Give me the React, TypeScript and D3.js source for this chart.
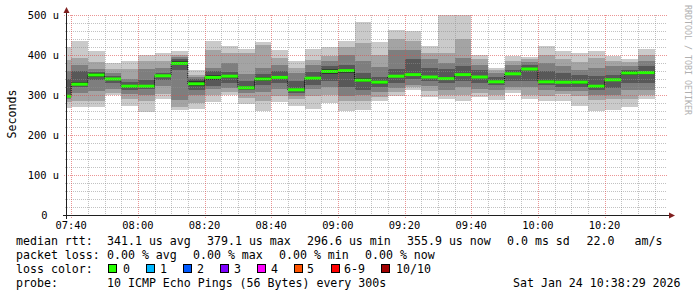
import React from 'react';
import * as d3 from 'd3';

const barTimes = [
  '07:35', '07:40', '07:45', '07:50', '07:55', '08:00', '08:05', '08:10', '08:15',
  '08:20', '08:25', '08:30', '08:35', '08:40', '08:45', '08:50', '08:55', '09:00',
  '09:05', '09:10', '09:15', '09:20', '09:25', '09:30', '09:35', '09:40', '09:45',
  '09:50', '09:55', '10:00', '10:05', '10:10', '10:15', '10:20', '10:25', '10:30',
];

// median RTT per 5-minute step (microseconds)
const medians = [
  297, 327, 350, 340, 322, 322, 348, 379, 328, 344, 347, 318, 340, 344, 313, 342, 359, 361,
  337, 332, 347, 351, 345, 341, 351, 345, 333, 353, 365, 333, 332, 332, 322, 338, 355, 356,
];

// the 10 sorted ping times per step (microseconds)
const pings = [
  [268, 283, 290, 294, 296, 298, 340, 361, 388, 419],
  [270, 286, 306, 319, 324, 332, 361, 376, 392, 434],
  [269, 286, 309, 338, 346, 354, 358, 365, 382, 409],
  [299, 306, 315, 330, 337, 343, 348, 356, 366, 380],
  [273, 290, 302, 313, 318, 326, 332, 341, 365, 386],
  [257, 286, 301, 315, 319, 325, 338, 365, 386, 399],
  [290, 303, 323, 338, 345, 351, 356, 368, 386, 405],
  [263, 270, 288, 363, 374, 384, 390, 395, 400, 409],
  [266, 280, 300, 313, 322, 334, 340, 345, 350, 363],
  [283, 299, 315, 322, 338, 350, 360, 368, 413, 436],
  [299, 308, 318, 330, 342, 351, 357, 380, 405, 423],
  [278, 293, 305, 312, 315, 321, 336, 353, 405, 416],
  [261, 284, 307, 325, 335, 345, 353, 368, 426, 432],
  [282, 297, 315, 330, 340, 348, 360, 375, 392, 413],
  [273, 290, 298, 305, 310, 316, 334, 355, 368, 384],
  [266, 297, 315, 325, 338, 346, 357, 375, 387, 415],
  [280, 300, 320, 335, 352, 366, 373, 385, 398, 419],
  [259, 285, 298, 320, 355, 366, 376, 400, 420, 434],
  [263, 284, 300, 313, 332, 342, 355, 384, 430, 482],
  [286, 294, 307, 320, 328, 336, 345, 370, 400, 432],
  [298, 307, 318, 330, 344, 350, 365, 413, 440, 463],
  [313, 320, 326, 340, 348, 354, 390, 413, 434, 459],
  [295, 309, 322, 335, 342, 348, 368, 390, 405, 422],
  [290, 301, 313, 330, 338, 345, 365, 380, 405, 500],
  [286, 301, 320, 335, 348, 354, 372, 392, 440, 500],
  [295, 305, 315, 330, 342, 348, 362, 376, 390, 401],
  [287, 300, 313, 325, 330, 336, 345, 355, 362, 368],
  [305, 312, 320, 335, 350, 356, 363, 375, 384, 398],
  [291, 300, 320, 335, 362, 368, 375, 383, 390, 395],
  [284, 297, 312, 325, 330, 337, 359, 380, 400, 422],
  [286, 303, 310, 320, 330, 334, 355, 372, 390, 409],
  [273, 297, 310, 320, 328, 336, 350, 363, 382, 405],
  [261, 288, 300, 312, 318, 326, 347, 368, 392, 411],
  [263, 290, 301, 318, 334, 341, 351, 373, 385, 397],
  [270, 290, 313, 330, 350, 360, 363, 373, 382, 390],
  [291, 300, 313, 330, 352, 360, 372, 384, 400, 416],
];

const yTickValues = [0, 100, 200, 300, 400, 500];
const yTickLabels = ['0', '100 u', '200 u', '300 u', '400 u', '500 u'];
const smokeShades = ['#cacaca', '#a4a4a4', '#7e7e7e', '#585858', '#323232'];
const lossColors = ['#26ff00', '#00b8ff', '#0059ff', '#7e00ff', '#ff00ff', '#ff5500', '#ff0000', '#a10000'];
const lossLabels = ['0', '1', '2', '3', '4', '5', '6-9', '10/10'];
const lossBoxX = [108, 146, 183, 220, 257, 294, 331, 381];
const lossLabelX = [123, 160, 197, 234, 271, 307, 344, 396];

const rttRow = [
  ['median rtt:', 16], ['341.1 us avg', 107], ['379.1 us max', 207], ['296.6 us min', 307],
  ['355.9 us now', 407], ['0.0 ms sd', 507], ['22.0', 586.5], ['am/s', 634.5],
] as [string, number][];
const lossRow = [
  ['packet loss:', 16], ['0.00 % avg', 107], ['0.00 % max', 193], ['0.00 % min', 279], ['0.00 % now', 365],
] as [string, number][];
const probeRow = [
  ['probe:', 16], ['10 ICMP Echo Pings (56 Bytes) every 300s', 107], ['Sat Jan 24 10:38:29 2026', 513],
] as [string, number][];

const mono = 'DejaVu Sans Mono';

function parseT(s: string) {
  const [h, m] = s.split(':').map(Number);
  return new Date(2026, 0, 24, h, m, 0);
}

export default function App() {
  const W = 697, H = 297;
  const x = d3.scaleTime()
    .domain([new Date(2026, 0, 24, 7, 38, 45), new Date(2026, 0, 24, 10, 38, 45)])
    .range([67, 667]);
  const y = d3.scaleLinear().domain([0, 500]).range([215, 15]);

  const bars = barTimes.map((s, i) => {
    const t0 = parseT(s);
    const t1 = d3.timeMinute.offset(t0, 5);
    return { x0: x(t0), x1: x(t1), p: pings[i], m: medians[i] };
  });

  const minorX = x.ticks(d3.timeMinute.every(5)!).filter((d) => d.getMinutes() % 20 !== 0);
  const majorX = x.ticks(d3.timeMinute.every(20)!);
  const fmt = d3.timeFormat('%H:%M');
  const minorY = d3.range(20, 501, 20).filter((v) => v % 100 !== 0);

  let stepPath = '';
  bars.forEach((b, i) => {
    const yy = y(b.m);
    stepPath += (i === 0 ? `M${b.x0},${yy}` : `V${yy}`) + `H${b.x1}`;
  });

  const gridMinor = 'rgba(143,143,143,0.55)';
  const gridMajor = 'rgba(222,79,79,0.6)';

  return (
    <div style={{ position: 'absolute', left: 0, top: 0 }}>
      <svg width={W} height={H} style={{ display: 'block', background: '#fff' }}>
        <defs>
          <clipPath id="plot">
            <rect x={67} y={15} width={600} height={200} />
          </clipPath>
        </defs>
        <rect x={0} y={0} width={W} height={H} fill="#fff" />
        <g clipPath="url(#plot)">
          {bars.map((b, i) =>
            smokeShades.map((c, k) => (
              <rect
                key={`s${i}-${k}`}
                x={b.x0}
                width={b.x1 - b.x0}
                y={y(b.p[9 - k])}
                height={y(b.p[k]) - y(b.p[9 - k])}
                fill={c}
                shapeRendering="crispEdges"
              />
            ))
          )}
          <path d={stepPath} fill="none" stroke="#000" strokeWidth={1} strokeDasharray="1,1" />
          {bars.map((b, i) => (
            <line key={`m${i}`} x1={b.x0} x2={b.x1} y1={y(b.m)} y2={y(b.m)} stroke={lossColors[0]} strokeWidth={3} />
          ))}
        </g>
        {/* grid */}
        {minorX.map((d, i) => (
          <line key={`gx${i}`} x1={Math.round(x(d)) + 0.5} x2={Math.round(x(d)) + 0.5} y1={15} y2={217}
            stroke={gridMinor} strokeDasharray="1,1" />
        ))}
        {minorY.map((v, i) => (
          <line key={`gy${i}`} x1={65} x2={667} y1={Math.round(y(v)) + 0.5} y2={Math.round(y(v)) + 0.5}
            stroke={gridMinor} strokeDasharray="1,1" />
        ))}
        {majorX.map((d, i) => (
          <line key={`Gx${i}`} x1={Math.round(x(d)) + 0.5} x2={Math.round(x(d)) + 0.5} y1={15} y2={218}
            stroke={gridMajor} strokeDasharray="1,1" />
        ))}
        {yTickValues.filter((v) => v > 0).map((v, i) => (
          <line key={`Gy${i}`} x1={64} x2={667} y1={Math.round(y(v)) + 0.5} y2={Math.round(y(v)) + 0.5}
            stroke={gridMajor} strokeDasharray="1,1" />
        ))}
        {/* axes */}
        <line x1={66.5} x2={66.5} y1={219} y2={11} stroke="#1f1f1f" strokeWidth={1} />
        <line x1={63} x2={670} y1={215.5} y2={215.5} stroke="#1f1f1f" strokeWidth={1} />
        <polygon points="63.5,13 69.5,13 66.5,7" fill="#801f1f" />
        <polygon points="669,212.5 669,218.5 675,215.5" fill="#801f1f" />
        {/* y labels */}
        {yTickValues.map((v, i) => (
          <text key={`yl${i}`} x={v === 0 ? 47.5 : 59} y={y(v) + 3.8} textAnchor="end"
            fontFamily={mono} fontSize={10.4} fill="#000">{yTickLabels[i]}</text>
        ))}
        {/* x labels */}
        {majorX.map((d, i) => (
          <text key={`xl${i}`} x={x(d)} y={229} textAnchor="middle" fontFamily={mono} fontSize={10.4} fill="#000">
            {fmt(d)}
          </text>
        ))}
        <text transform="translate(16,114) rotate(-90)" textAnchor="middle" fontFamily={mono} fontSize={11.6} fill="#000">
          Seconds
        </text>
        <text transform="translate(685,5) rotate(90)" fontFamily={mono} fontSize={8.3} fill="#b0b0b0">
          RRDTOOL / TOBI OETIKER
        </text>
        {/* legend */}
        {rttRow.map(([s, px], i) => (
          <text key={`r1${i}`} x={px} y={245} fontFamily={mono} fontSize={11.6} fill="#000" style={{ whiteSpace: 'pre' }}>{s}</text>
        ))}
        {lossRow.map(([s, px], i) => (
          <text key={`r2${i}`} x={px} y={259.2} fontFamily={mono} fontSize={11.6} fill="#000" style={{ whiteSpace: 'pre' }}>{s}</text>
        ))}
        <text x={16} y={273.4} fontFamily={mono} fontSize={11.6} fill="#000">loss color:</text>
        {lossColors.map((c, i) => (
          <g key={`lc${i}`}>
            <rect x={lossBoxX[i] + 0.5} y={264.5} width={8} height={8} fill={c} stroke="#000" strokeWidth={1} />
            <text x={lossLabelX[i]} y={273.4} fontFamily={mono} fontSize={11.6} fill="#000">{lossLabels[i]}</text>
          </g>
        ))}
        {probeRow.map(([s, px], i) => (
          <text key={`r4${i}`} x={px} y={287.4} fontFamily={mono} fontSize={11.6} fill="#000" style={{ whiteSpace: 'pre' }}>{s}</text>
        ))}
      </svg>
    </div>
  );
}
